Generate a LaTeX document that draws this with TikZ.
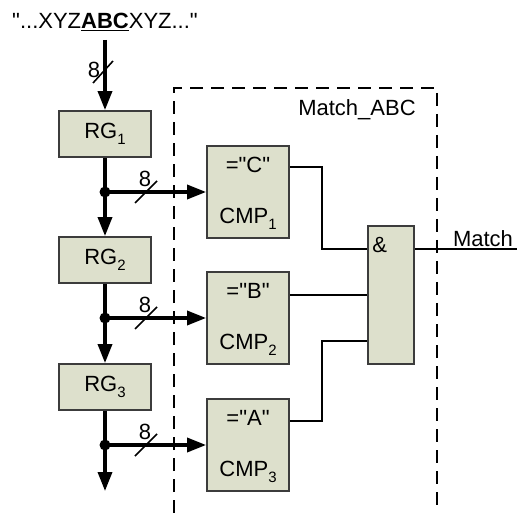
\documentclass[tikz,border=0pt]{standalone}
\usepackage{fontspec}
\setmainfont{Liberation Sans}[Ligatures=TeXOff]
\usetikzlibrary{arrows.meta,calc}
\definecolor{boxfill}{RGB}{221,224,204}
\definecolor{boxline}{RGB}{60,60,60}
\newcommand{\subidx}[1]{\raisebox{-0.3em}{\fontsize{15}{15}\selectfont #1}}
\newcommand{\dq}{"}
\tikzset{
  blk/.style={draw=boxline,fill=boxfill,line width=1.8pt,minimum width=92pt,minimum height=46pt,inner sep=0pt,font=\fontsize{22}{26}\selectfont},
  cmpbox/.style={draw=boxline,fill=boxfill,line width=1.8pt,minimum width=82pt,minimum height=92pt,inner sep=0pt},
  andbox/.style={draw=boxline,fill=boxfill,line width=1.8pt,minimum width=46pt,minimum height=138pt,inner sep=0pt},
  txt/.style={font=\fontsize{22}{26}\selectfont,inner sep=0pt},
  bus/.style={line width=3.4pt,-{Triangle[length=19pt,width=14pt]}},
  wire/.style={line width=2pt},
  slash/.style={line width=1.6pt},
  dot/.style={circle,fill=black,minimum size=11pt,inner sep=0pt},
  frame/.style={line width=2.2pt,dash pattern=on 13pt off 8pt}
}
\begin{document}
\begin{tikzpicture}[x=1pt,y=-1pt]
\useasboundingbox (0,0) rectangle (517,513);
% title
\node[txt] (title) at (105,22) {\dq...XYZ\underline{\textbf{ABC}}XYZ...\dq};
\coordinate (busstart) at (105,40);
% registers
\node[blk] (rg1) at (105,134) {RG\subidx{1}};
\node[blk] (rg2) at (105,260) {RG\subidx{2}};
\node[blk] (rg3) at (105,387) {RG\subidx{3}};
\coordinate (busend) at (105,491);
% dashed frame
\coordinate (fbl) at (174,513);
\coordinate (ftl) at (174,88);
\coordinate (ftr) at (437,88);
\coordinate (fbr) at (437,513);
\draw[frame] (fbl) -- (ftl) -- (ftr) -- (fbr);
\node[txt] (mabc) at (357,110) {Match\_ABC};
% comparators
\node[cmpbox] (cmp1) at (248,192) {};
\node[cmpbox] (cmp2) at (248,318) {};
\node[cmpbox] (cmp3) at (248,445) {};
\node[txt] (c1a) at ($(cmp1.north)+(0,20)$) {=\dq C\dq};
\node[txt] (c1b) at ($(cmp1.south)+(0,-20)$) {CMP\subidx{1}};
\node[txt] (c2a) at ($(cmp2.north)+(0,20)$) {=\dq B\dq};
\node[txt] (c2b) at ($(cmp2.south)+(0,-20)$) {CMP\subidx{2}};
\node[txt] (c3a) at ($(cmp3.north)+(0,20)$) {=\dq A\dq};
\node[txt] (c3b) at ($(cmp3.south)+(0,-20)$) {CMP\subidx{3}};
% AND gate
\node[andbox] (and) at (391,295) {};
\node[txt,anchor=north west] (amp) at ($(and.north west)+(5,12)$) {\&};
% bus
\draw[bus] (busstart) -- (rg1.north);
\draw[bus] (rg1.south) -- (rg2.north);
\draw[bus] (rg2.south) -- (rg3.north);
\draw[bus] (rg3.south) -- (busend);
% junctions
\node[dot] (j1) at (rg1.south |- cmp1.west) {};
\node[dot] (j2) at (rg2.south |- cmp2.west) {};
\node[dot] (j3) at (rg3.south |- cmp3.west) {};
\draw[bus] (j1.center) -- (cmp1.west);
\draw[bus] (j2.center) -- (cmp2.west);
\draw[bus] (j3.center) -- (cmp3.west);
% slashes with width label
\coordinate (s0) at (103,72);
\draw[slash] ($(s0)+(-10,11)$) -- ($(s0)+(10,-11)$);
\node[txt] (w0) at (94,70) {8};
\foreach \j/\k in {j1/1,j2/2,j3/3}{
  \coordinate (s\k) at ($(\j)+(41,0)$);
  \draw[slash] ($(s\k)+(-11,11)$) -- ($(s\k)+(11,-11)$);
  \node[txt] (w\k) at ($(\j)+(40,-13)$) {8};
}
% connections to AND
\coordinate (a1) at ($(and.west)+(0,-46)$);
\coordinate (a3) at ($(and.west)+(0,46)$);
\coordinate (o1) at ($(cmp1.north east)+(0,22)$);
\coordinate (o3) at ($(cmp3.north east)+(0,23)$);
\coordinate (k1) at (322,0);
\draw[wire] (o1) -- (k1 |- o1) -- (k1 |- a1) -- (a1);
\draw[wire] (cmp2.east |- and.west) -- (and.west);
\draw[wire] (o3) -- (k1 |- o3) -- (k1 |- a3) -- (a3);
% output
\coordinate (a0) at ($(and.east)+(0,-46)$);
\coordinate (outend) at (517,0);
\draw[wire] (a0) -- (outend |- a0);
\node[txt,anchor=south] (mout) at (483,247) {Match};
\end{tikzpicture}
\end{document}
